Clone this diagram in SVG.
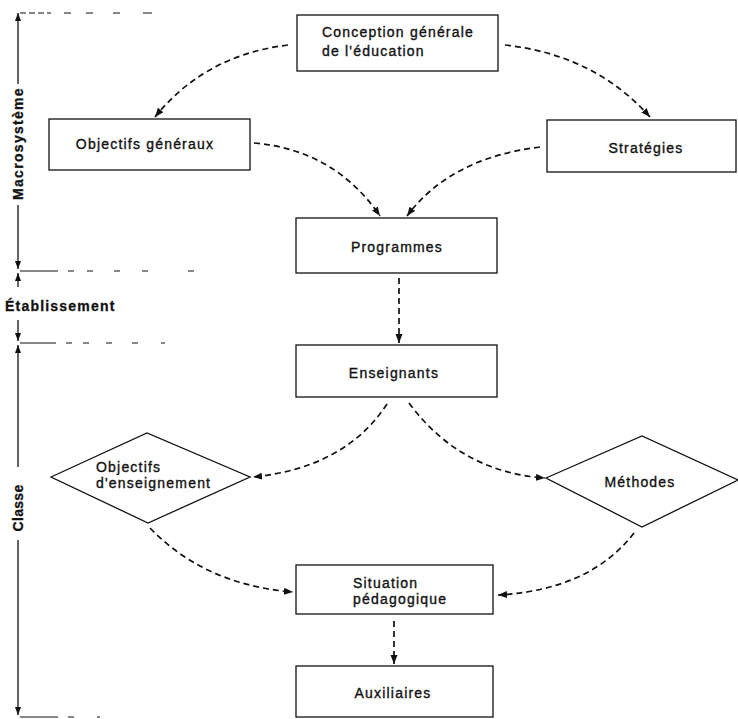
<svg xmlns="http://www.w3.org/2000/svg" width="738" height="719" viewBox="0 0 738 719">
  <style>
    .box { fill: #fff; stroke: #111; stroke-width: 1.3; }
    .lbl { font-family: "Liberation Sans", Arial, sans-serif; font-size: 14px; letter-spacing: 1.2px; fill: #111; stroke: #111; stroke-width: 0.35; }
    .mid { text-anchor: middle; }
    .side { font-family: "Liberation Sans", Arial, sans-serif; font-size: 14px; font-weight: bold; fill: #111; stroke: #111; stroke-width: 0.3; }
    .flow { fill: none; stroke: #111; stroke-width: 1.7; stroke-dasharray: 6 4; marker-end: url(#tip); }
    .axis { fill: none; stroke: #111; stroke-width: 1.3; }
    .level { fill: none; stroke: #111; stroke-width: 1.2; }
  </style>
  <defs>
    <marker id="tip" markerUnits="userSpaceOnUse" markerWidth="10" markerHeight="8" refX="9" refY="3.5" orient="auto">
      <path d="M0,0 L9,3.5 L0,7 z" fill="#111"/>
    </marker>
    <marker id="atip" markerUnits="userSpaceOnUse" markerWidth="9" markerHeight="7" refX="8" refY="3" orient="auto">
      <path d="M0,0 L8,3 L0,6 z" fill="#111"/>
    </marker>
  </defs>

  <rect width="738" height="719" fill="#fff"/>

  <!-- level scale on the left -->
  <g id="scale">
    <path class="level" d="M20,13 H26 M29,13 H35 M38,13 H44 M47,13 H51 M64,13 H71 M86,13 H93 M113,13 H120 M143,13 H152"/>
    <path class="level" d="M20,271 H58 M68,271 H74 M87,271 H93 M114,271 H120 M142,271 H148 M188,271 H194"/>
    <path class="level" d="M20,343 H56 M66,343 H72 M83,343 H89 M106,343 H112 M132,343 H138 M161,343 H165"/>
    <path class="level" d="M20,717 H58 M68,717 H74 M97,717 H100"/>
    <path class="axis" d="M18,84 V13" marker-end="url(#atip)"/>
    <path class="axis" d="M18,205 V269" marker-end="url(#atip)"/>
    <path class="axis" d="M18,287 V273" marker-end="url(#atip)"/>
    <path class="axis" d="M18,320 V341" marker-end="url(#atip)"/>
    <path class="axis" d="M18,467 V345" marker-end="url(#atip)"/>
    <path class="axis" d="M18,540 V715" marker-end="url(#atip)"/>
    <text class="side mid" transform="translate(23,143.5) rotate(-90)" letter-spacing="1.3">Macrosystème</text>
    <text class="side" x="5" y="311" letter-spacing="1.2">Établissement</text>
    <text class="side mid" transform="translate(23,508) rotate(-90)" letter-spacing="0.3">Classe</text>
  </g>

  <!-- connectors -->
  <g id="connectors">
    <path class="flow" d="M288,45 Q205,55 155,117"/>
    <path class="flow" d="M505,45 Q595,55 650,117"/>
    <path class="flow" d="M254,143 Q335,150 380,216"/>
    <path class="flow" d="M540,147 Q450,158 407,216"/>
    <path class="flow" d="M399,278 V343"/>
    <path class="flow" d="M387,404 Q345,468 253,477"/>
    <path class="flow" d="M409,403 Q460,472 545,478"/>
    <path class="flow" d="M150,528 Q205,585 293,592"/>
    <path class="flow" d="M634,533 Q590,590 498,595"/>
    <path class="flow" d="M394,621 V664"/>
  </g>

  <g id="conception">
    <rect class="box" x="297" y="15" width="201" height="56"/>
    <text class="lbl" x="322" y="37">Conception générale</text>
    <text class="lbl" x="322" y="56">de l'éducation</text>
  </g>

  <g id="objectifs-generaux">
    <rect class="box" x="49" y="119" width="201" height="51"/>
    <text class="lbl mid" x="145" y="149">Objectifs généraux</text>
  </g>

  <g id="strategies">
    <rect class="box" x="547" y="120" width="189" height="52"/>
    <text class="lbl mid" x="646" y="153">Stratégies</text>
  </g>

  <g id="programmes">
    <rect class="box" x="296" y="218" width="201" height="55"/>
    <text class="lbl mid" x="397" y="252">Programmes</text>
  </g>

  <g id="enseignants">
    <rect class="box" x="296" y="345" width="201" height="52"/>
    <text class="lbl mid" x="394" y="378">Enseignants</text>
  </g>

  <g id="objectifs-enseignement">
    <polygon class="box" points="51,477 147,433 250,477 148,523"/>
    <text class="lbl" x="96" y="472">Objectifs</text>
    <text class="lbl" x="96" y="488">d'enseignement</text>
  </g>

  <g id="methodes">
    <polygon class="box" points="546,478 642,436 738,480 642,527"/>
    <text class="lbl mid" x="640" y="487">Méthodes</text>
  </g>

  <g id="situation">
    <rect class="box" x="296" y="565" width="197" height="49"/>
    <text class="lbl" x="353" y="588">Situation</text>
    <text class="lbl" x="353" y="604">pédagogique</text>
  </g>

  <g id="auxiliaires">
    <rect class="box" x="296" y="666" width="197" height="51"/>
    <text class="lbl mid" x="393" y="698">Auxiliaires</text>
  </g>
</svg>
